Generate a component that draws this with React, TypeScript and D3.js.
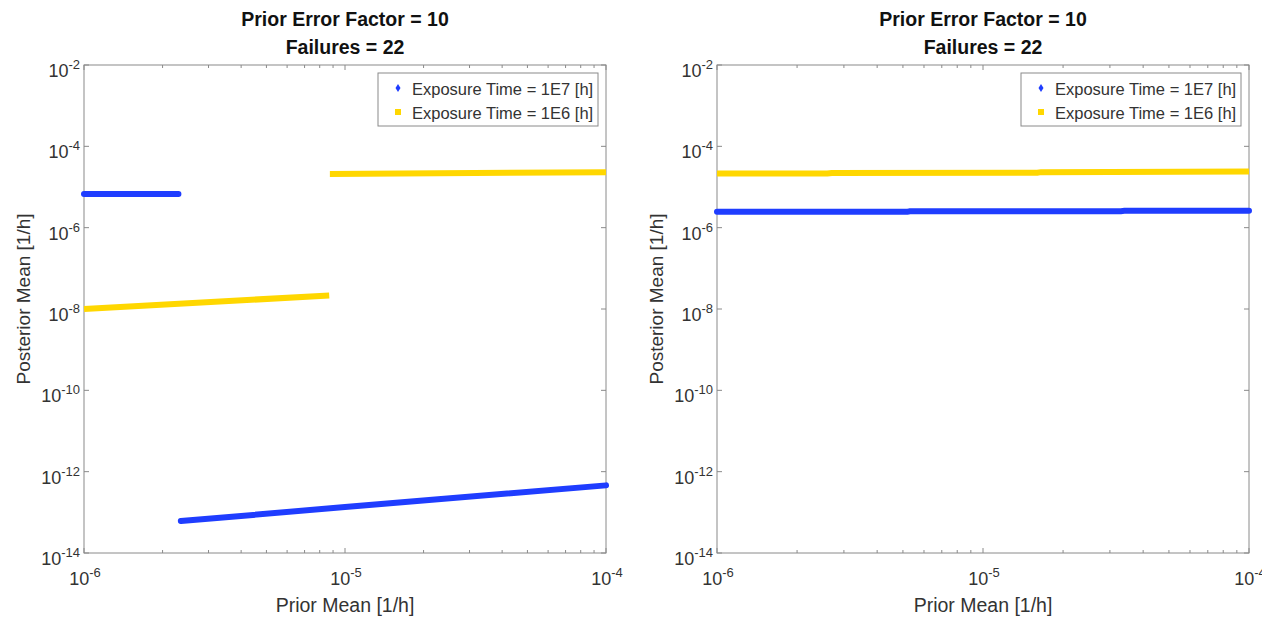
import React from "react";
import * as d3 from "d3";

type Pt = [number, number];

const titleLine1 = "Prior Error Factor = 10";
const titleLine2 = "Failures = 22";
const xLabel = "Prior Mean [1/h]";
const yLabel = "Posterior Mean [1/h]";
const legendLabels = ["Exposure Time = 1E7 [h]", "Exposure Time = 1E6 [h]"];
const xTickExps = [-6, -5, -4];
const yTickExps = [-2, -4, -6, -8, -10, -12, -14];

// Left panel series (segments)
const leftBlue: Pt[][] = [
  [[1e-6, 6.7e-6], [2.3e-6, 6.7e-6]],
  [[2.35e-6, 6.1e-14], [1e-5, 1.35e-13], [1e-4, 4.6e-13]],
];
const leftYellow: Pt[][] = [
  [[1e-6, 1.0e-8], [8.7e-6, 2.15e-8]],
  [[8.75e-6, 2.1e-5], [1e-4, 2.3e-5]],
];
// Right panel series
const rightBlue: Pt[][] = [
  [[1e-6, 2.45e-6], [5.2e-6, 2.45e-6], [5.3e-6, 2.52e-6], [3.3e-5, 2.55e-6], [3.4e-5, 2.6e-6], [1e-4, 2.62e-6]],
];
const rightYellow: Pt[][] = [
  [[1e-6, 2.15e-5], [2.6e-6, 2.15e-5], [2.7e-6, 2.22e-5], [1.6e-5, 2.25e-5], [1.65e-5, 2.32e-5], [1e-4, 2.4e-5]],
];

const BLUE = "#1f3dff";
const YELLOW = "#ffd700";
const AX = "#8a8a8a";
const TXT = "#333";
const FONT = "'Liberation Sans', Arial, sans-serif";

function Pow({ x, y, exp, anchor }: { x: number; y: number; exp: number; anchor: string }) {
  return (
    <text x={x} y={y} textAnchor={anchor as any} fontFamily={FONT} fontSize={18} fill={TXT}>
      10<tspan dy={-8} fontSize={13}>{exp}</tspan>
    </text>
  );
}

function Panel({ left, right, top, bottom, blue, yellow }: { left: number; right: number; top: number; bottom: number; blue: Pt[][]; yellow: Pt[][] }) {
  const x = d3.scaleLog().domain([1e-6, 1e-4]).range([left, right]);
  const y = d3.scaleLog().domain([1e-14, 1e-2]).range([bottom, top]);
  const line = d3.line<Pt>().x((d) => x(d[0])).y((d) => y(d[1]));
  const cx = (left + right) / 2;
  const minor: number[] = [];
  for (let e = -6; e < -4; e++) for (let m = 2; m <= 9; m++) minor.push(m * Math.pow(10, e));
  const lx = right - 228;
  return (
    <g>
      <text x={cx} y={26} textAnchor="middle" fontFamily={FONT} fontWeight="bold" fontSize={19.5} fill="#111">{titleLine1}</text>
      <text x={cx} y={54} textAnchor="middle" fontFamily={FONT} fontWeight="bold" fontSize={19.5} fill="#111">{titleLine2}</text>
      <rect x={left} y={top} width={right - left} height={bottom - top} fill="white" stroke={AX} strokeWidth={1} />
      {minor.map((v, i) => (
        <g key={"m" + i}>
          <line x1={x(v)} x2={x(v)} y1={bottom} y2={bottom - 3} stroke={AX} />
          <line x1={x(v)} x2={x(v)} y1={top} y2={top + 3} stroke={AX} />
        </g>
      ))}
      {xTickExps.map((e) => (
        <g key={"x" + e}>
          <line x1={x(Math.pow(10, e))} x2={x(Math.pow(10, e))} y1={bottom} y2={bottom - 5} stroke={AX} />
          <line x1={x(Math.pow(10, e))} x2={x(Math.pow(10, e))} y1={top} y2={top + 5} stroke={AX} />
          <Pow x={x(Math.pow(10, e)) + 1} y={bottom + 32} exp={e} anchor="middle" />
        </g>
      ))}
      {yTickExps.map((e) => (
        <g key={"y" + e}>
          <line x1={left} x2={left + 5} y1={y(Math.pow(10, e))} y2={y(Math.pow(10, e))} stroke={AX} />
          <line x1={right} x2={right - 5} y1={y(Math.pow(10, e))} y2={y(Math.pow(10, e))} stroke={AX} />
          <Pow x={left - 4} y={y(Math.pow(10, e)) + 12} exp={e} anchor="end" />
        </g>
      ))}
      {yellow.map((s, i) => (
        <path key={"yl" + i} d={line(s) || ""} fill="none" stroke={YELLOW} strokeWidth={6} />
      ))}
      {blue.map((s, i) => (
        <path key={"bl" + i} d={line(s) || ""} fill="none" stroke={BLUE} strokeWidth={6} strokeLinecap="round" />
      ))}
      <text x={cx} y={bottom + 59} textAnchor="middle" fontFamily={FONT} fontSize={19.5} fill={TXT}>{xLabel}</text>
      <text transform={`translate(${left - 54},${(top + bottom) / 2 - 10}) rotate(-90)`} textAnchor="middle" fontFamily={FONT} fontSize={19} fill={TXT}>{yLabel}</text>
      <rect x={lx} y={top + 8} width={220} height={53} fill="white" stroke={AX} />
      <path d={`M${lx + 20},${top + 19} l2.5,4 l-2.5,4 l-2.5,-4 z`} fill={BLUE} />
      <rect x={lx + 17} y={top + 44} width={6} height={6} fill={YELLOW} />
      <text x={lx + 34} y={top + 30} fontFamily={FONT} fontSize={16.5} fill={TXT}>{legendLabels[0]}</text>
      <text x={lx + 34} y={top + 54} fontFamily={FONT} fontSize={16.5} fill={TXT}>{legendLabels[1]}</text>
    </g>
  );
}

export default function App() {
  return (
    <svg width={1262} height={618} style={{ position: "absolute", left: 0, top: 0 }}>
      <rect width={1262} height={618} fill="white" />
      <Panel left={84} right={606} top={65} bottom={553} blue={leftBlue} yellow={leftYellow} />
      <Panel left={717} right={1249} top={65} bottom={553} blue={rightBlue} yellow={rightYellow} />
    </svg>
  );
}
